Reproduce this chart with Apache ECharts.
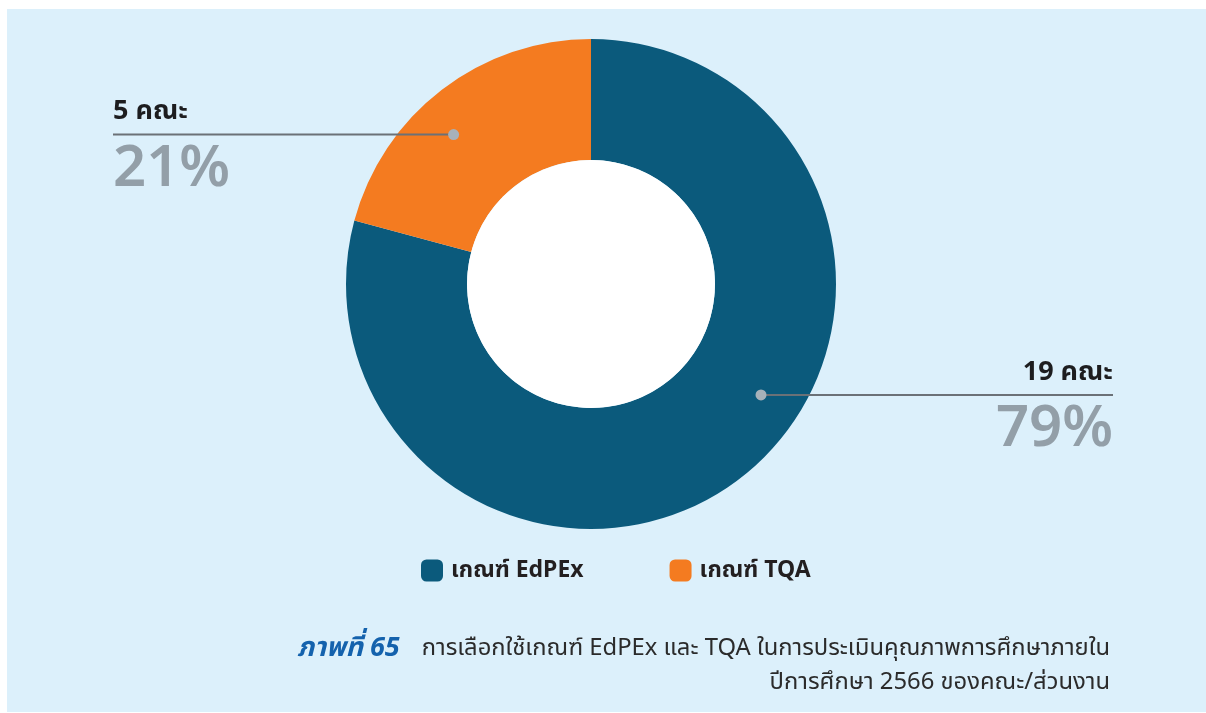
<!DOCTYPE html>
<html>
<head>
<meta charset="utf-8">
<title>การเลือกใช้เกณฑ์ EdPEx และ TQA</title>
<script src="https://cdn.jsdelivr.net/npm/echarts@6/dist/echarts.min.js"></script>
<style>
  html, body { margin: 0; padding: 0; background: #ffffff; }
  #chart { width: 1206px; height: 713px; }
</style>
</head>
<body>
<div id="chart"></div>
<script>
// Faculty counts by quality-assessment framework, academic year 2566
const categories = ['เกณฑ์ EdPEx', 'เกณฑ์ TQA'];
const facultyCounts = [19, 5];
const percentLabels = ['79%', '21%'];
const countUnit = 'คณะ';
const sliceColors = ['#0b5a7c', '#f47b20'];

const captionHead = 'ภาพที่ 65';
const captionLine1 = 'การเลือกใช้เกณฑ์ EdPEx และ TQA ในการประเมินคุณภาพการศึกษาภายใน';
const captionLine2 = 'ปีการศึกษา 2566 ของคณะ/ส่วนงาน';

// Donut geometry (pixels)
const CX = 591, CY = 284, R_IN = 124, R_OUT = 245;
const ANCHOR_R = 203;       // radius of the callout dot
const ANCHOR_FRAC = 0.432;  // position of the dot along each slice
const LEFT_X = 113, RIGHT_X = 1113;

const total = facultyCounts.reduce((a, b) => a + b, 0);

// Callout dot positions, following the pie's clockwise sweep from 12 o'clock
const anchors = [];
let cum = 0;
facultyCounts.forEach(v => {
  const a0 = 90 - 360 * cum / total;
  const span = 360 * v / total;
  const a = (a0 - ANCHOR_FRAC * span) * Math.PI / 180;
  anchors.push([CX + ANCHOR_R * Math.cos(a), CY - ANCHOR_R * Math.sin(a)]);
  cum += v;
});
const calloutEndX = p => (p[0] > CX ? RIGHT_X : LEFT_X);

const FONT = '"Noto Sans", "Noto Sans Thai", sans-serif';

const chart = echarts.init(document.getElementById('chart'), null, { renderer: 'canvas' });

const option = {
  backgroundColor: '#ffffff',
  animation: false,
  color: sliceColors,
  legend: {
    data: categories,
    left: 421,
    top: 559,
    padding: 0,
    itemWidth: 22,
    itemHeight: 22,
    itemGap: 86,
    icon: 'roundRect',
    textStyle: { fontFamily: FONT, fontSize: 23, fontWeight: 'bold', color: '#231f20', padding: [0, 0, 0, 3] },
    selectedMode: false
  },
  graphic: [
    {
      type: 'rect', z: -10, silent: true,
      shape: { x: 7, y: 9, width: 1199, height: 703 },
      style: { fill: '#dcf0fb' }
    },
    {
      type: 'circle', z: 10, silent: true,
      shape: { cx: CX, cy: CY, r: R_IN },
      style: { fill: '#ffffff' }
    },
    // callout leader lines, from each dot out to the label edge
    ...anchors.map(p => ({
      type: 'polyline', z: 19, silent: true,
      shape: { points: [[p[0], p[1]], [calloutEndX(p), p[1]]] },
      style: { stroke: '#6b7177', lineWidth: 2, fill: null }
    })),
    ...anchors.map(p => ({
      type: 'circle', z: 20, silent: true,
      shape: { cx: p[0], cy: p[1], r: 5.5 },
      style: { fill: '#a7b1b9' }
    })),
    {
      type: 'text', silent: true,
      x: 1110, y: 631,
      style: {
        text: '{h|' + captionHead + '}{t|' + captionLine1 + '}\n{t|' + captionLine2 + '}',
        align: 'right',
        verticalAlign: 'top',
        rich: {
          h: { fontFamily: FONT, fontSize: 27, fontWeight: 'bold', fontStyle: 'italic', fill: '#1462ad', lineHeight: 34, padding: [0, 22, 0, 0] },
          t: { fontFamily: FONT, fontSize: 23.8, fill: '#2b2b2b', lineHeight: 34 }
        }
      }
    }
  ],
  series: [
    {
      type: 'pie',
      center: [CX, CY],
      radius: [R_IN, R_OUT],
      startAngle: 90,
      clockwise: true,
      silent: true,
      emphasis: { disabled: true },
      itemStyle: { borderWidth: 0 },
      data: categories.map((name, i) => ({ name, value: facultyCounts[i] })),
      label: {
        show: true,
        position: 'outside',
        formatter: p => '{n|' + facultyCounts[p.dataIndex] + ' ' + countUnit + '}\n{p|' + percentLabels[p.dataIndex] + '}',
        rich: {
          n: { fontFamily: FONT, fontSize: 27, fontWeight: 'bold', color: '#1d1d1f', lineHeight: 34 },
          p: { fontFamily: FONT, fontSize: 58, fontWeight: 600, color: '#939fa8', lineHeight: 82 }
        }
      },
      labelLine: { show: false },
      labelLayout: function (params) {
        const p = anchors[params.dataIndex];
        const right = p[0] > CX;
        return {
          x: calloutEndX(p),
          y: p[1] - 40,
          align: right ? 'right' : 'left',
          verticalAlign: 'top'
        };
      }
    }
  ]
};

chart.setOption(option);
</script>
</body>
</html>
